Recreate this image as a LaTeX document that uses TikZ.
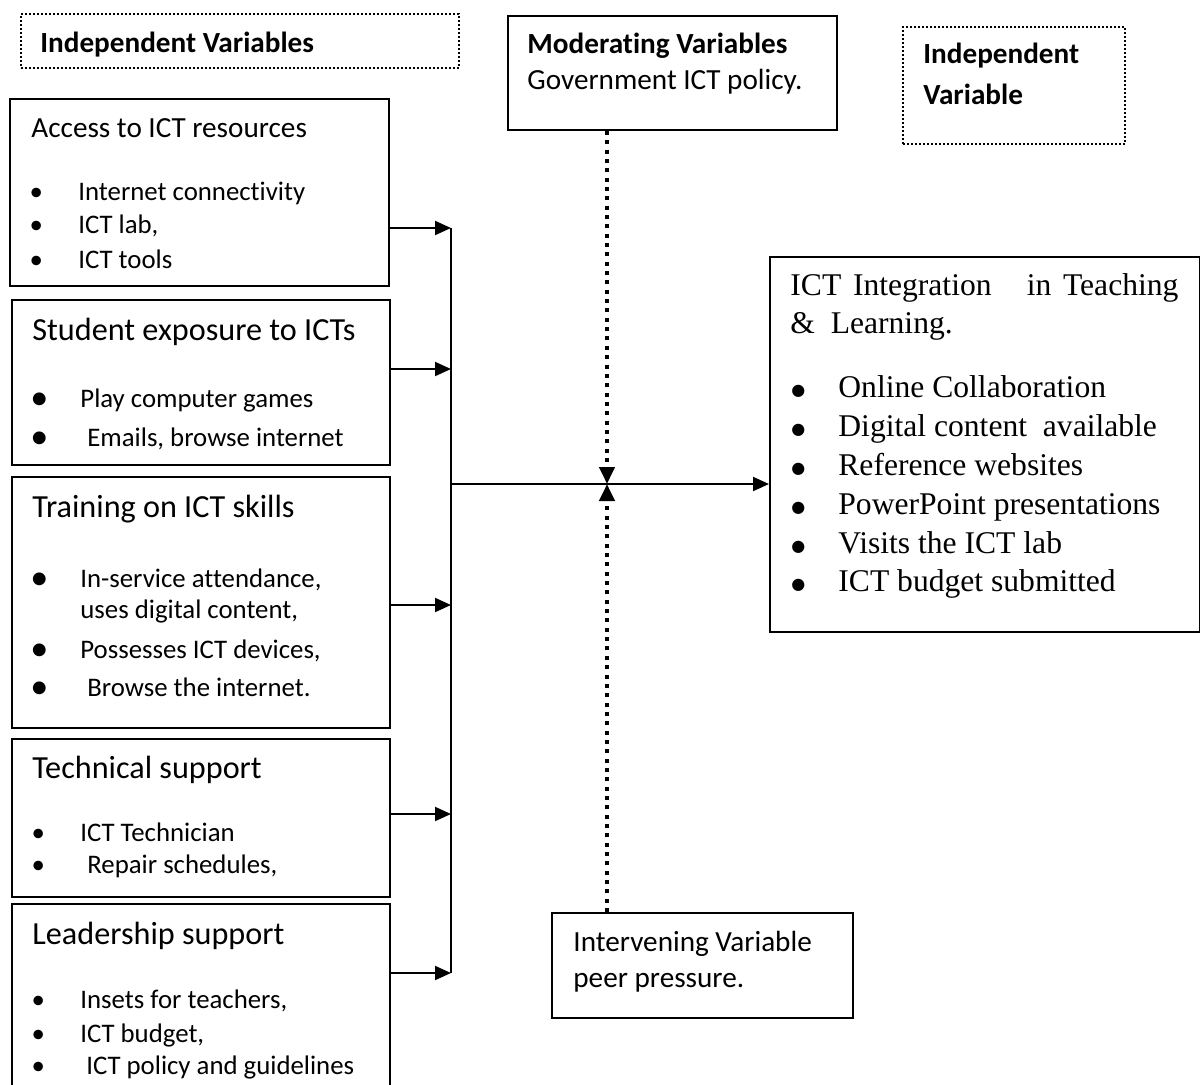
\documentclass[tikz,border=0pt]{standalone}
\usepackage{fontspec}
\setmainfont{Carlito}[Ligatures = CommonOff]
\newfontfamily\timesfont{Liberation Serif}
\newfontfamily\symfont{DejaVu Sans}
\usetikzlibrary{arrows.meta, positioning, calc}

\newcommand\bl[2][41pt]{\llap{\makebox[#1]{\textbullet}}#2}
\newcommand\bbl[2][41pt]{\llap{\makebox[#1]{\raisebox{-1.2pt}[0pt][0pt]{\scalebox{1.35}{\textbullet}}}}#2}
\newcommand\sbl[2][40pt]{\llap{\makebox[#1]{\raisebox{1pt}{\symfont\fontsize{8}{8}\selectfont ●}}}#2}

\tikzset {
    box/.style = {draw, line width = 1pt, anchor = north west, inner sep = 0pt},
    dot box/.style = {
        draw, line width = 0.9pt, dash pattern = on 0.9pt off 1.1pt,
        anchor = north west, inner sep = 0pt
    },
    txt/.style = {anchor = base west, inner sep = 0pt, font = \fontsize{13.4}{16}\selectfont},
    head/.style = {anchor = base west, inner sep = 0pt, font = \fontsize{14.6}{17}\selectfont},
    big head/.style = {head, font = \fontsize{16.1}{19}\selectfont},
    bold head/.style = {head, font = \fontsize{14.6}{17}\selectfont\bfseries},
    serif/.style = {anchor = base west, inner sep = 0pt, font = \fontsize{15.8}{19}\timesfont},
    link/.style = {line width = 1pt, arrows = {-Triangle[length = 8pt 0 0, width = 7pt 0 0]}},
    dotted link/.style = {
        line width = 2pt, dash pattern = on 2pt off 2.67pt,
        arrows = {-Triangle[length = 8.5pt 0 0, width = 7.5pt 0 0]}
    }
}

\begin{document}
\begin{tikzpicture}[x = 0.5pt, y = -0.5pt]
    \useasboundingbox (0, 0) rectangle (1200, 1084);
    \clip (0, 0) rectangle (1200, 1084);
    % boxes
    \node (ivs) [dot box, minimum width = 219pt, minimum height = 27pt] at (20, 13) {};
    \node (access) [box, minimum width = 189.5pt, minimum height = 93.5pt] at (9, 98) {};
    \node (student) [box, minimum width = 189pt, minimum height = 82.5pt] at (11, 299) {};
    \node (training) [box, minimum width = 189pt, minimum height = 125.5pt] at (11, 476) {};
    \node (technical) [box, minimum width = 189pt, minimum height = 79pt] at (11, 738) {};
    \node (leader) [box, minimum width = 189pt, minimum height = 100pt] at (11, 903) {};
    \node (moder) [box, minimum width = 164.5pt, minimum height = 57pt] at (507, 15) {};
    \node (ivar) [dot box, minimum width = 111pt, minimum height = 58.5pt] at (902, 26) {};
    \node (target) [box, minimum width = 215pt, minimum height = 187.5pt] at (769, 256) {};
    \node (interv) [box, minimum width = 150.5pt, minimum height = 52.5pt] at (551, 912) {};

    % texts
    \node (t ivs) [bold head] at (40, 52) {Independent Variables};

    \node (t acc) [head] at (31, 137) {Access to ICT resources};
    \node (acc 1) [txt] at (78, 200) {\bl[42pt]{Internet connectivity}};
    \node (acc 2) [txt] at (78, 233) {\bl[42pt]{ICT lab,}};
    \node (acc 3) [txt] at (78, 268) {\bl[42pt]{ICT tools}};

    \node (t stu) [big head] at (32, 340) {Student exposure to ICTs};
    \node (stu 1) [txt] at (80, 407) {\bbl{Play computer games}};
    \node (stu 2) [txt] at (87, 446) {\bbl[48pt]{Emails, browse internet}};

    \node (t tra) [big head] at (32, 517) {Training on ICT skills};
    \node (tra 1) [txt] at (80, 587) {\bbl{In-service attendance,}};
    \node (tra 2) [txt] at (80, 618) {uses digital content,};
    \node (tra 3) [txt] at (80, 658) {\bbl{Possesses ICT devices,}};
    \node (tra 4) [txt] at (87, 696) {\bbl[48pt]{Browse the internet.}};

    \node (t tec) [big head] at (32, 778) {Technical support};
    \node (tec 1) [txt] at (80, 841) {\bl[42pt]{ICT Technician}};
    \node (tec 2) [txt] at (87, 873) {\bl[49pt]{Repair schedules,}};

    \node (t lea) [big head] at (32, 944) {Leadership support};
    \node (lea 1) [txt] at (80, 1008) {\bl[42pt]{Insets for teachers,}};
    \node (lea 2) [txt] at (80, 1042) {\bl[42pt]{ICT budget,}};
    \node (lea 3) [txt] at (86, 1074) {\bl[48pt]{ICT policy and guidelines}};

    \node (t mod) [bold head] at (527, 53) {Moderating Variables};
    \node (mod 1) [head] at (527, 89) {Government ICT policy.};

    \node (t ivar) [bold head] at (923, 63) {Independent};
    \node (t ivar 2) [bold head] at (923, 104) {Variable};

    \node (t int) [head] at (573, 951) {Intervening Variable};
    \node (int 1) [head] at (573, 987) {peer pressure.};

    \node (t tgt) [serif] at (790, 295) {\makebox[194pt][s]{ICT\ Integration\ \ \ in\ Teaching}};
    \node (t tgt 2) [serif] at (790, 333) {\&\ \ Learning.};
    \foreach \t [count = \i] in {Online Collaboration, Digital content\ \ available,
        Reference websites, PowerPoint presentations, Visits the ICT lab, ICT budget submitted}
        \node (tgt \i) [serif] at (838, {359 + 38.8*\i}) {\sbl{\t}};

    % connectors
    \coordinate (b1) at (451, 228);
    \coordinate (b2) at (451, 369);
    \coordinate (b3) at (451, 605);
    \coordinate (b4) at (451, 814);
    \coordinate (b5) at (451, 973);
    \coordinate (hub) at (451, 484);
    \coordinate (meet) at (607, 484);

    \draw [line width = 1pt] (b1) -- (b5);
    \draw [link] (access.east |- b1) -- (b1);
    \draw [link] (student.east |- b2) -- (b2);
    \draw [link] (training.east |- b3) -- (b3);
    \draw [link] (technical.east |- b4) -- (b4);
    \draw [link] (leader.east |- b5) -- (b5);
    \draw [link] (hub) -- (target.west |- hub);
    \draw [dotted link] (meet |- moder.south) -- (meet);
    \draw [dotted link] (meet |- interv.north) -- (meet);
\end{tikzpicture}
\end{document}
